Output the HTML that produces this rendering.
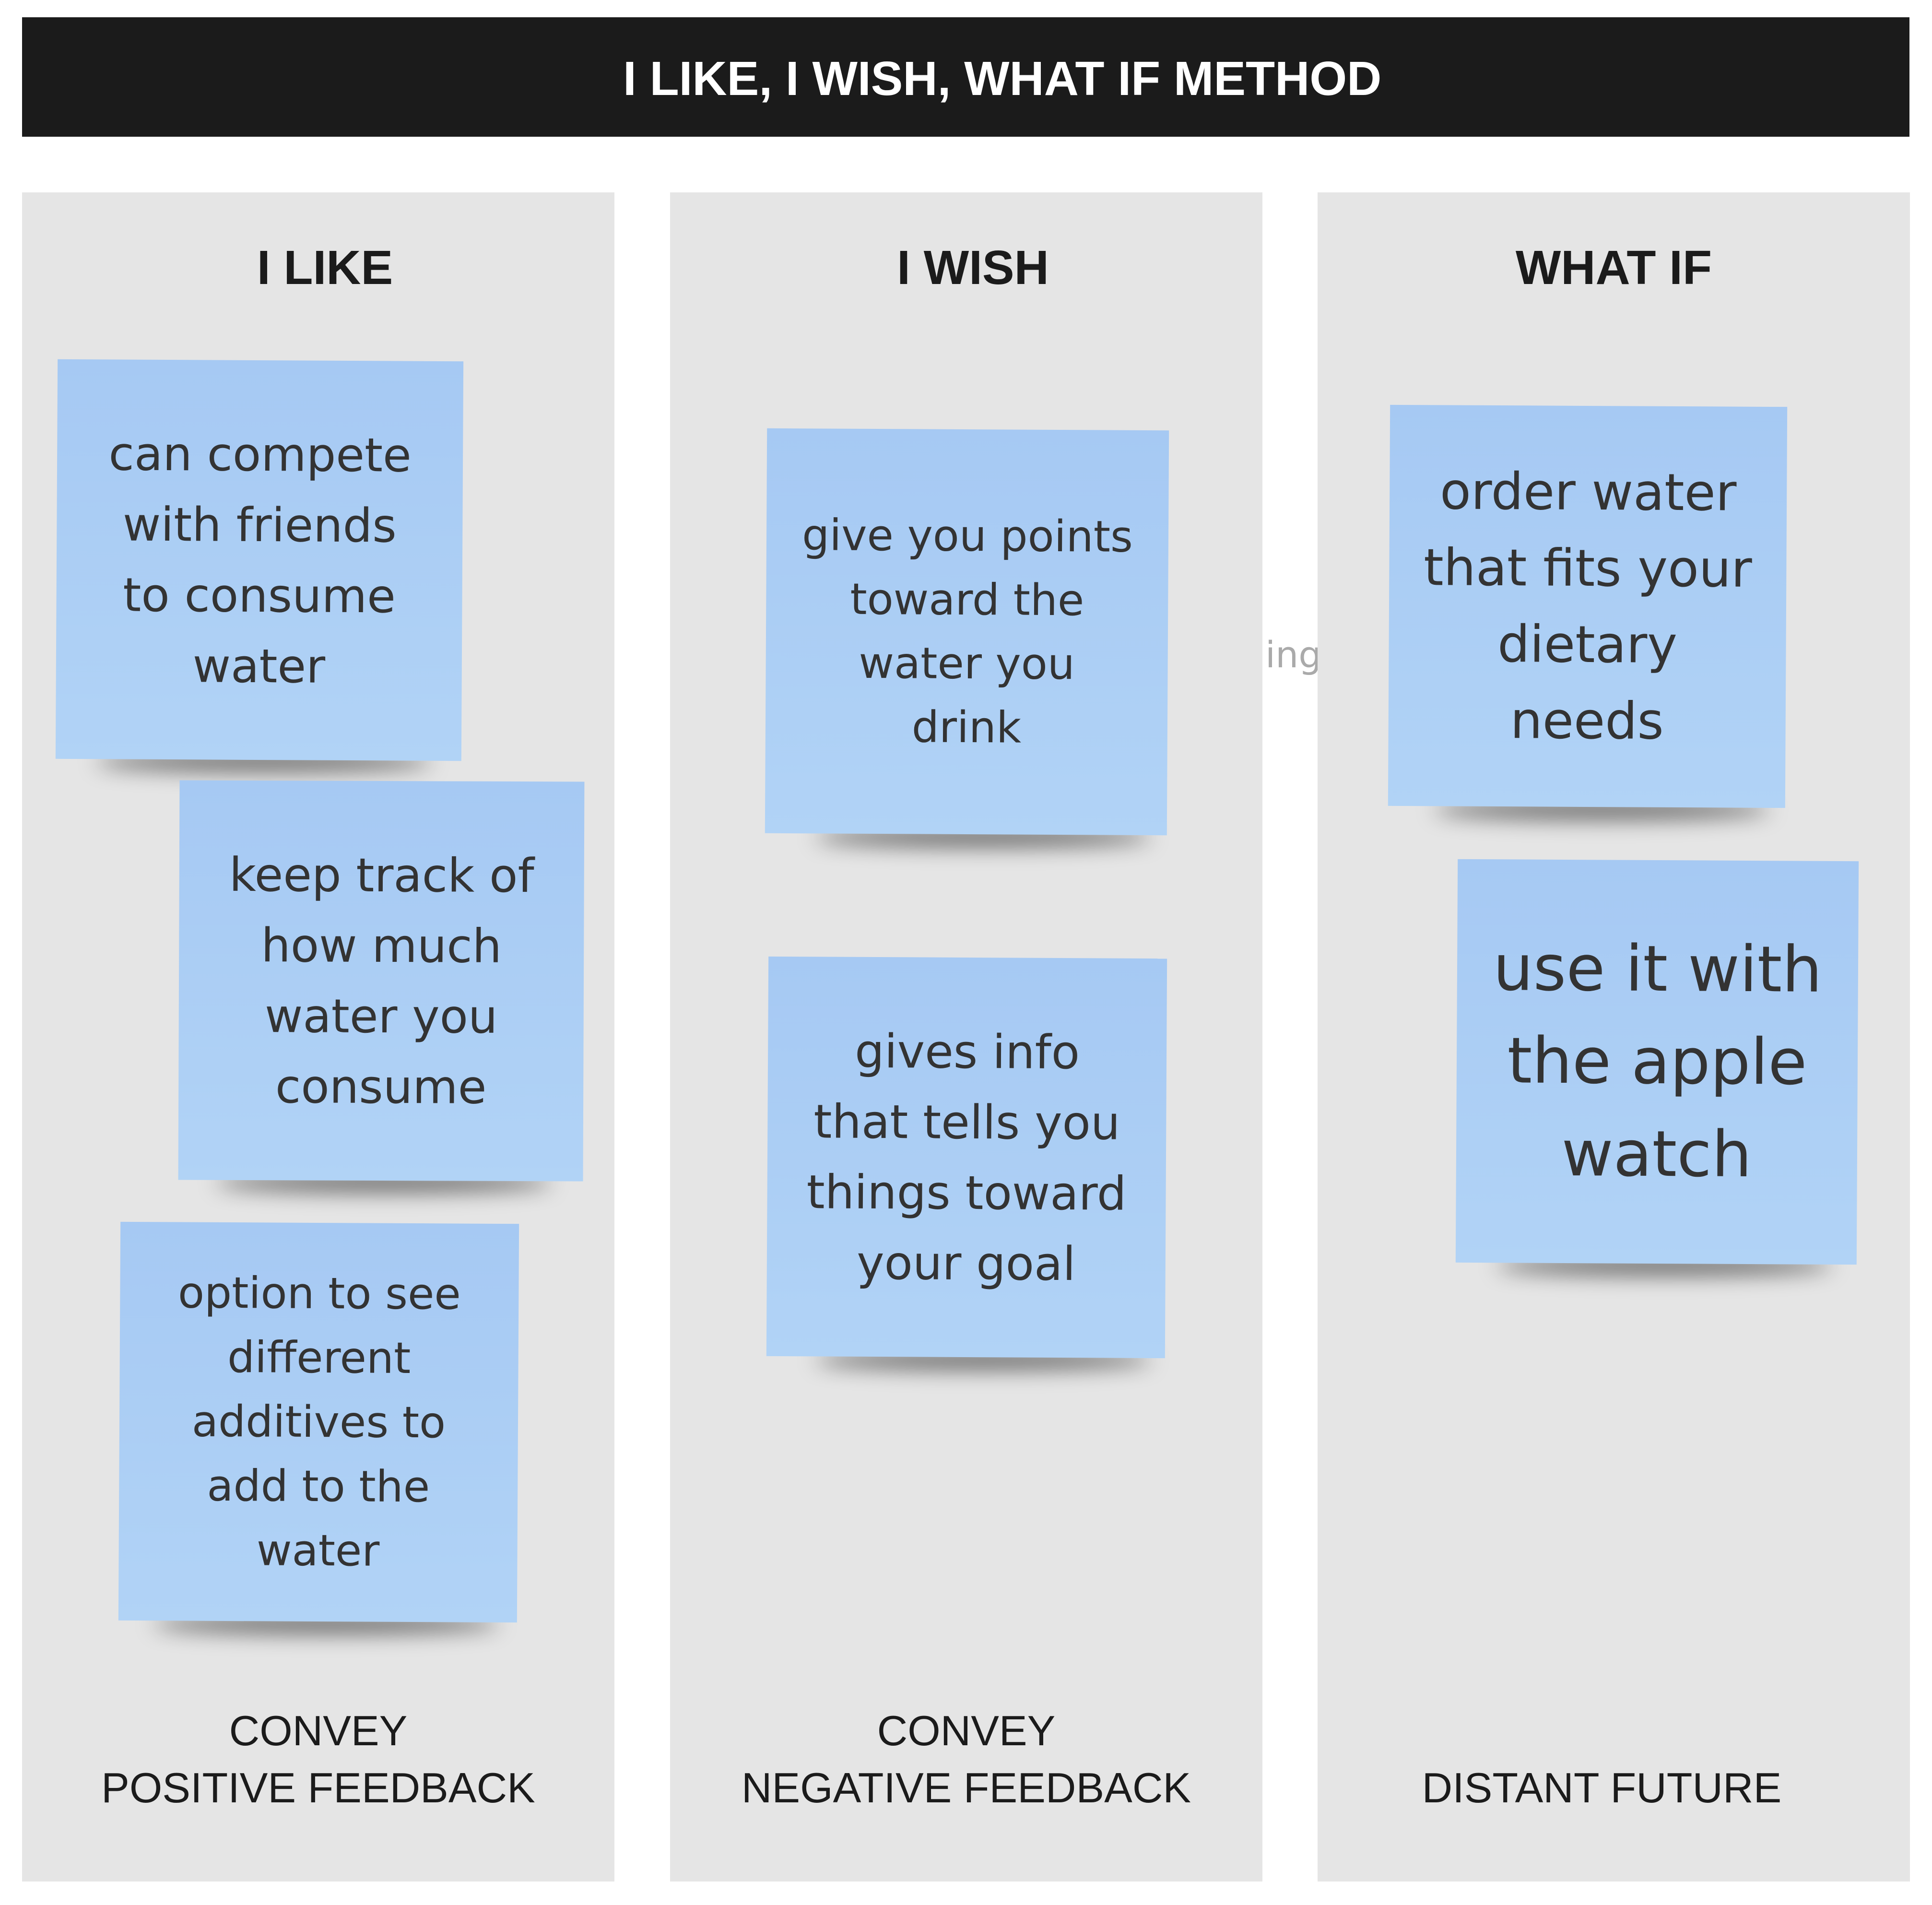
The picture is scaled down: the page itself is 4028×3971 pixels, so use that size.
<!DOCTYPE html>
<html><head><meta charset="utf-8"><style>
body{margin:0;width:4028px;height:3971px;background:#fff;position:relative;overflow:hidden;font-family:"Liberation Sans",sans-serif}
.hdr{position:absolute;left:46px;top:36px;width:3935px;height:249px;background:#1b1b1b}
.title{position:absolute;left:1299px;top:106px;color:#fff;font-weight:bold;font-size:100px;line-height:116px;white-space:nowrap}
.col{position:absolute;top:401px;width:1235px;height:3521px;background:#e5e5e5}
.ct{position:absolute;top:500px;width:1235px;text-align:center;font-weight:bold;font-size:100px;line-height:116px;color:#1b1b1b}
.ft{position:absolute;width:1235px;text-align:center;font-size:88px;line-height:119px;color:#1b1b1b}
.n{position:absolute;display:flex;align-items:center;justify-content:center;text-align:center;color:#333;font-family:"DejaVu Sans","Liberation Sans",sans-serif;background:linear-gradient(180deg,#a6c9f3,#b1d3f6)}
.n span{position:relative;z-index:2}
.sh{position:absolute;height:40px;background:rgba(0,0,0,.55);filter:blur(22px);border-radius:50%}
.ghost{position:absolute;left:2560px;top:1320px;font-size:76px;color:#aaa;font-family:"DejaVu Sans",sans-serif}
</style></head><body>
<div class="hdr"></div>
<div class="title">I LIKE, I WISH, WHAT IF METHOD</div>
<div class="ghost">thing</div>
<div class="col" style="left:46px"></div>
<div class="col" style="left:1397px"></div>
<div class="col" style="left:2747px"></div>
<div class="ct" style="left:60px">I LIKE</div>
<div class="ct" style="left:1411px">I WISH</div>
<div class="ct" style="left:2747px">WHAT IF</div>

<div class="sh" style="left:200px;top:1568px;width:700px"></div>
<div class="sh" style="left:450px;top:2445px;width:700px"></div>
<div class="sh" style="left:320px;top:3365px;width:720px"></div>
<div class="sh" style="left:1700px;top:1725px;width:700px"></div>
<div class="sh" style="left:1700px;top:2815px;width:700px"></div>
<div class="sh" style="left:2990px;top:1668px;width:700px"></div>
<div class="sh" style="left:3120px;top:2618px;width:700px"></div>

<div class="n" style="left:118px;top:751px;width:846px;height:833px;font-size:97px;line-height:147px;transform:rotate(0.3deg)"><span>can compete<br>with friends<br>to consume<br>water</span></div>
<div class="n" style="left:373px;top:1628px;width:844px;height:833px;font-size:97px;line-height:147px;transform:rotate(0.2deg)"><span>keep track of<br>how much<br>water you<br>consume</span></div>
<div class="n" style="left:249px;top:2549px;width:831px;height:831px;font-size:90px;line-height:134px;transform:rotate(0.3deg)"><span>option to see<br>different<br>additives to<br>add to the<br>water</span></div>
<div class="n" style="left:1597px;top:895px;width:838px;height:844px;font-size:90px;line-height:133px;transform:rotate(0.3deg)"><span>give you points<br>toward the<br>water you<br>drink</span></div>
<div class="n" style="left:1600px;top:1996px;width:831px;height:833px;font-size:97px;line-height:147px;transform:rotate(0.3deg)"><span>gives info<br>that tells you<br>things toward<br>your goal</span></div>
<div class="n" style="left:2896px;top:846px;width:828px;height:836px;font-size:106px;line-height:159px;transform:rotate(0.3deg)"><span>order water<br>that fits your<br>dietary<br>needs</span></div>
<div class="n" style="left:3037px;top:1793px;width:836px;height:841px;font-size:132px;line-height:193px;transform:rotate(0.3deg)"><span>use it with<br>the apple<br>watch</span></div>

<div class="ft" style="left:46px;top:3548px">CONVEY<br>POSITIVE FEEDBACK</div>
<div class="ft" style="left:1397px;top:3548px">CONVEY<br>NEGATIVE FEEDBACK</div>
<div class="ft" style="left:2722px;top:3667px">DISTANT FUTURE</div>
</body></html>
